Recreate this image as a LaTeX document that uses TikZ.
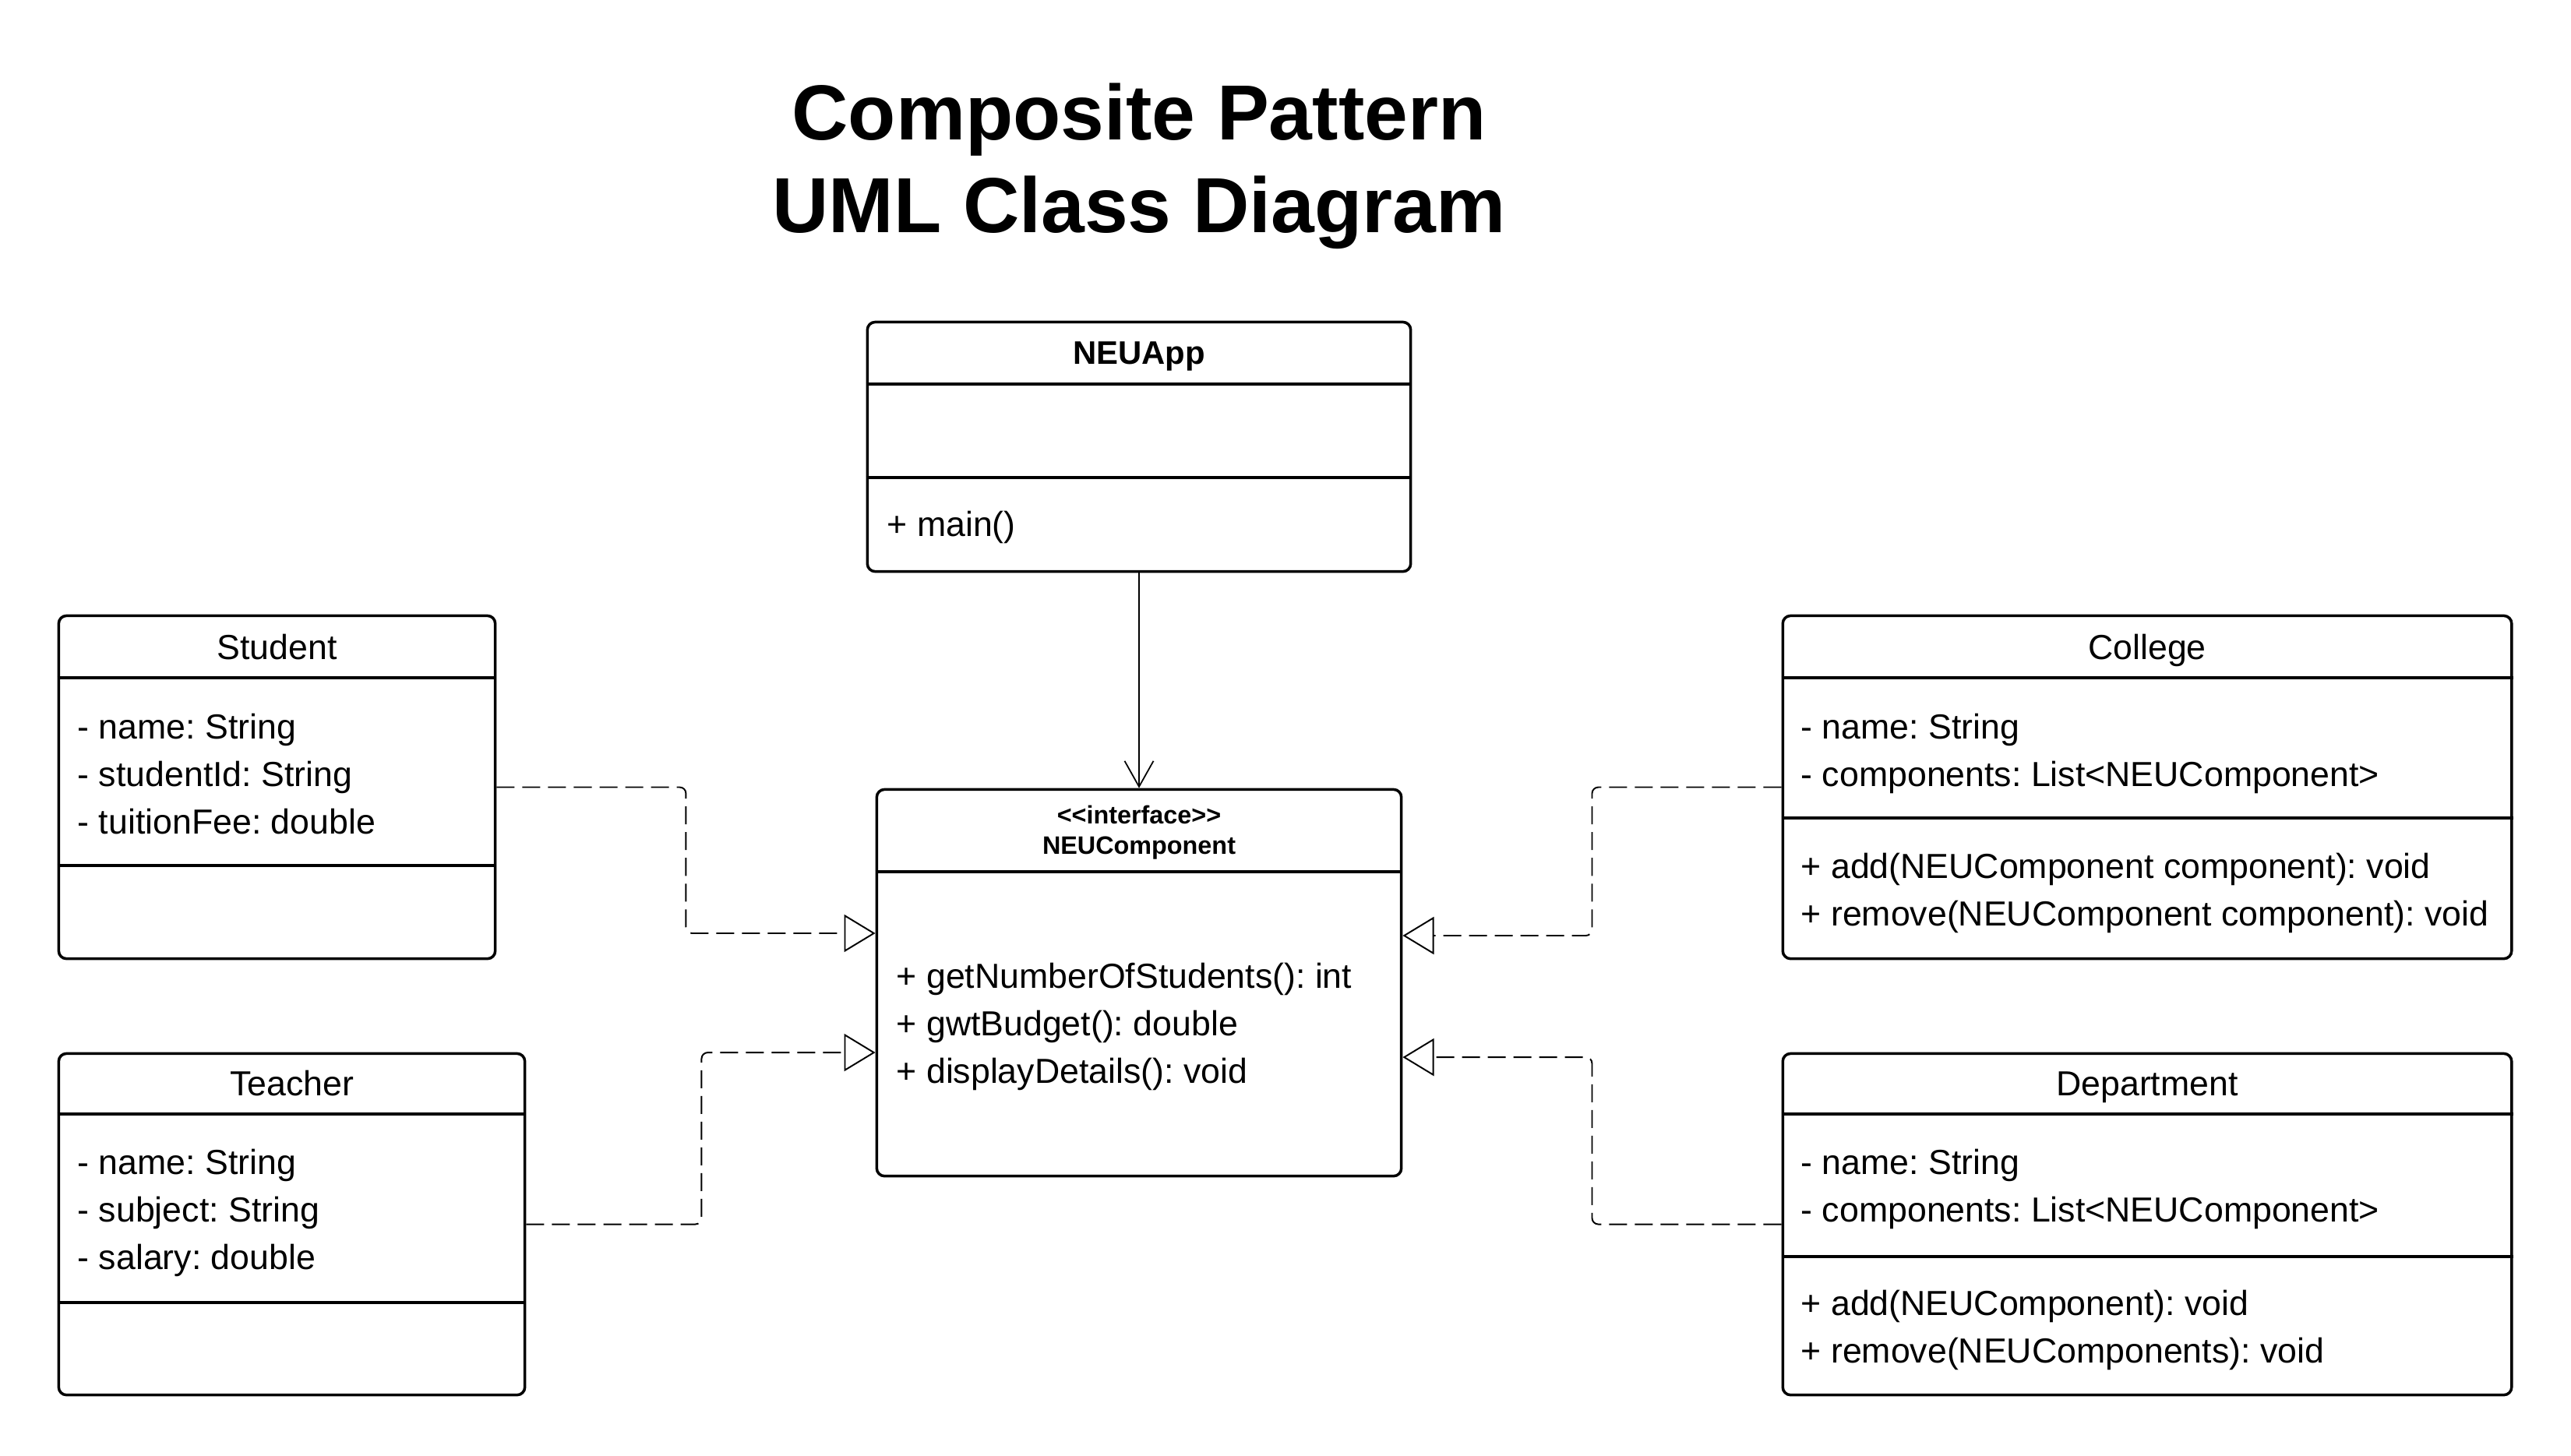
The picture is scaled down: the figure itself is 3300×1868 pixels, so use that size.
\documentclass[tikz,border=0pt]{standalone}
\usepackage{fontspec}
\setmainfont{Liberation Sans}
\usepackage{tikz}
\usetikzlibrary{arrows.meta, positioning}
\frenchspacing
\tikzset{
  classbox/.style={ draw, line width=1pt, rounded corners=0.1cm, inner sep=0pt }
}
\tikzset{
  sepline/.style={ line width=1pt }
}
\tikzset{
  member/.style={ anchor=base west, inner sep=0pt, font=\fontsize{12.7}{15}\selectfont }
}
\tikzset{
  cname/.style={ anchor=base, inner sep=0pt, font=\fontsize{12.7}{15}\selectfont }
}
\tikzset{
  realize/.style={ line width=0.55pt, dash pattern=on 0.23cm off 0.1cm, rounded corners=0.08cm,
    -{Triangle[open, length=0.4cm, width=0.48cm]} }
}
\tikzset{
  assoc/.style={ line width=0.5pt, -{Straight Barb[length=0.33cm, width=0.37cm]} }
}

\begin{document}
\begin{tikzpicture}[x=0.01cm, y=-0.01cm]
      \useasboundingbox (0,0) rectangle (3300,1868);

      \node[anchor=base, font=\fontsize{28.5}{34}\selectfont\bfseries] (title1) at (1462,179) {Composite Pattern};
      \node[anchor=base, font=\fontsize{28.5}{34}\selectfont\bfseries] (title2) at (1462,298) {UML Class Diagram};

      \node[classbox, minimum width=6.97cm, minimum height=3.2cm] (app) at (1462,573.5) {};
      \draw[sepline] (app.west |- 0,493) -- (app.east |- 0,493);
      \draw[sepline] (app.west |- 0,613) -- (app.east |- 0,613);
      \node[cname, font=\fontsize{11.9}{14}\selectfont\bfseries] (app-name) at (1462,467) {NEUApp};
      \node[member] (app-m1) at (1138,688) {+ main()};

      \node[classbox, minimum width=6.73cm, minimum height=4.96cm] (comp) at (1462,1261.5) {};
      \draw[sepline] (comp.west |- 0,1119) -- (comp.east |- 0,1119);
      \node[cname, font=\fontsize{9.2}{11}\selectfont\bfseries] (comp-st) at (1462,1057) {<\kern0pt<interface>\kern0pt>};
      \node[cname, font=\fontsize{9.2}{11}\selectfont\bfseries] (comp-name) at (1462,1096) {NEUComponent};
      \foreach \m [count=\i] in {+ getNumberOfStudents(): int, + gwtBudget(): double, + displayDetails(): void}
        \node[member] (comp-m\i) at (1150,{1268+61*(\i-1)}) {\m};

      \node[classbox, minimum width=5.6cm, minimum height=4.4cm] (stu) at (355.5,1010.5) {};
      \draw[sepline] (stu.west |- 0,870) -- (stu.east |- 0,870);
      \draw[sepline] (stu.west |- 0,1111) -- (stu.east |- 0,1111);
      \node[cname] (stu-name) at (355.5,846) {Student};
      \foreach \m [count=\i] in {- name: String, - studentId: String, - tuitionFee: double}
        \node[member] (stu-a\i) at (99,{948+61*(\i-1)}) {\m};

      \node[classbox, minimum width=5.98cm, minimum height=4.38cm] (tea) at (374.5,1571.5) {};
      \draw[sepline] (tea.west |- 0,1430) -- (tea.east |- 0,1430);
      \draw[sepline] (tea.west |- 0,1672) -- (tea.east |- 0,1672);
      \node[cname] (tea-name) at (374.5,1406) {Teacher};
      \foreach \m [count=\i] in {- name: String, - subject: String, - salary: double}
        \node[member] (tea-a\i) at (99,{1507+61*(\i-1)}) {\m};

      \node[classbox, minimum width=9.35cm, minimum height=4.4cm] (col) at (2756,1010.5) {};
      \draw[sepline] (col.west |- 0,870) -- (col.east |- 0,870);
      \draw[sepline] (col.west |- 0,1050) -- (col.east |- 0,1050);
      \node[cname] (col-name) at (2756,846) {College};
      \foreach \m [count=\i] in {- name: String, - components: List<NEUComponent>}
        \node[member] (col-a\i) at (2311,{948+61*(\i-1)}) {\m};
      \foreach \m [count=\i] in {+ add(NEUComponent component): void, + remove(NEUComponent component): void}
        \node[member] (col-m\i) at (2311,{1127+61*(\i-1)}) {\m};

      \node[classbox, minimum width=9.35cm, minimum height=4.38cm] (dep) at (2756,1571.5) {};
      \draw[sepline] (dep.west |- 0,1430) -- (dep.east |- 0,1430);
      \draw[sepline] (dep.west |- 0,1613) -- (dep.east |- 0,1613);
      \node[cname] (dep-name) at (2756,1406) {Department};
      \foreach \m [count=\i] in {- name: String, - components: List<NEUComponent>}
        \node[member] (dep-a\i) at (2311,{1507+61*(\i-1)}) {\m};
      \foreach \m [count=\i] in {+ add(NEUComponent): void, + remove(NEUComponents): void}
        \node[member] (dep-m\i) at (2311,{1688+61*(\i-1)}) {\m};

      \draw[assoc] (app.south) -- (comp.north);

      \draw[realize] (stu.east) -- ++(243,0) |- ([yshift=0.635cm]comp.west);
      \draw[realize] (tea.east) -- ++(225,0) |- ([yshift=-0.895cm]comp.west);
      \draw[realize] (col.west) -- ++(-243,0) |- ([yshift=0.605cm]comp.east);
      \draw[realize] (dep.west) -- ++(-243,0) |- ([yshift=-0.955cm]comp.east);
    \end{tikzpicture}
\end{document}
